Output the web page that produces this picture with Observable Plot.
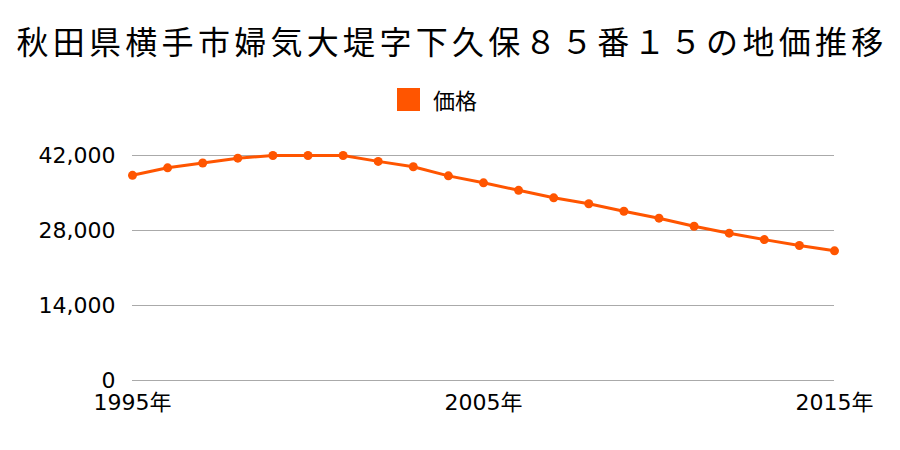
<!DOCTYPE html>
<html>
<head>
<meta charset="utf-8">
<script src="https://cdn.jsdelivr.net/npm/d3@7"></script>
<script src="https://cdn.jsdelivr.net/npm/@observablehq/plot@0.6"></script>
<style>
  html, body { margin: 0; padding: 0; background: #fff; }
  body { width: 900px; height: 450px; position: relative; overflow: hidden; font-family: "Noto Sans CJK JP", sans-serif; }
  #title { position: absolute; left: 2px; top: 16px; width: 900px; text-align: center; font-size: 32px; letter-spacing: 4.3px; line-height: 48px; color: #000; white-space: nowrap; }
  #legend { position: absolute; left: 397px; top: 86px; height: 26px; display: flex; align-items: center; font-size: 22px; color: #000; }
  #legend .sw { width: 23px; height: 23px; background: #ff5500; margin-right: 13px; }
  #chart { position: absolute; left: 0; top: 120px; }
</style>
</head>
<body>
<div id="title">秋田県横手市婦気大堤字下久保８５番１５の地価推移</div>
<div id="legend"><div class="sw"></div><span>価格</span></div>
<div id="chart"></div>
<script>
const years = [1995, 1996, 1997, 1998, 1999, 2000, 2001, 2002, 2003, 2004, 2005, 2006, 2007, 2008, 2009, 2010, 2011, 2012, 2013, 2014, 2015];
const prices = [38300, 39700, 40600, 41500, 42000, 42000, 42000, 40900, 39900, 38200, 36900, 35500, 34100, 33000, 31600, 30300, 28800, 27500, 26300, 25200, 24200];
const yTicks = [0, 14000, 28000, 42000];
const xTicks = [1995, 2005, 2015];
const seriesName = "価格";

const data = years.map((y, i) => ({year: y, price: prices[i], series: seriesName}));
const color = "#ff5500";
const fmt = d3.format(",");
const tickFont = "'DejaVu Sans', 'Noto Sans CJK JP', sans-serif";

const chart = Plot.plot({
  width: 900,
  height: 330,
  marginTop: 35,
  marginBottom: 70,
  marginLeft: 132,
  marginRight: 66,
  style: {fontFamily: tickFont, fontSize: "22px", color: "#000", background: "transparent", overflow: "visible"},
  x: {domain: [1995, 2015]},
  y: {domain: [0, 42000]},
  marks: [
    Plot.gridY(yTicks, {stroke: "#aaa", strokeOpacity: 1, strokeWidth: 1}),
    Plot.axisY(yTicks, {tickSize: 0, tickPadding: 17, tickFormat: fmt, fontSize: 22, label: null}),
    Plot.axisX(xTicks, {tickSize: 0, tickPadding: 14, tickFormat: d => d + "年", fontSize: 22, label: null}),
    Plot.line(data, {x: "year", y: "price", stroke: color, strokeWidth: 3}),
    Plot.dot(data, {x: "year", y: "price", fill: color, r: 4.5})
  ]
});
document.getElementById("chart").appendChild(chart);
</script>
</body>
</html>
